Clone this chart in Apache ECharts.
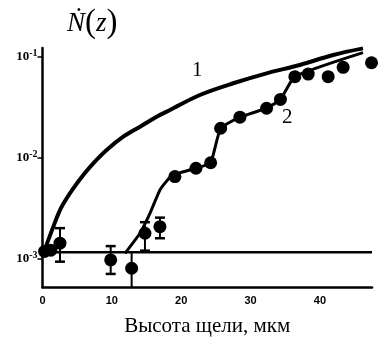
<!DOCTYPE html>
<html>
<head>
<meta charset="utf-8">
<script src="https://cdn.jsdelivr.net/npm/echarts@6/dist/echarts.min.js"></script>
<style>
html,body{margin:0;padding:0;background:#fff;}
#chart{width:378px;height:348px;}
</style>
</head>
<body>
<div id="chart"></div>
<script>
// Curve 1 (smooth theoretical curve)
const curve1X = [0.3, 1.56, 2.52, 3.49, 4.44, 5.88, 7.32, 9.25, 11.64, 14.05, 16.46, 18.37, 22.69, 27.49, 32.3, 37.1, 41.9, 46.2];
const curve1Y = [0.0012, 0.00206, 0.00301, 0.00394, 0.00494, 0.0067, 0.00875, 0.01186, 0.01607, 0.0202, 0.0254, 0.0296, 0.0417, 0.0545, 0.0684, 0.0828, 0.104, 0.121];

// Curve 2 (line through experimental points)
const curve2X = [11.9, 14.05, 15.49, 16.93, 18.3, 19.09, 22.12, 24.24, 25.68, 28.46, 32.3, 34.3, 36.38, 46.2];
const curve2Y = [0.00112, 0.00177, 0.00279, 0.00476, 0.0063, 0.0068, 0.00782, 0.00887, 0.0195, 0.0251, 0.0308, 0.0377, 0.0634, 0.1096];

// Experimental points
const pointsX = [0.3, 1.2, 2.52, 9.83, 12.85, 14.77, 16.93, 19.09, 22.12, 24.24, 25.68, 28.46, 32.3, 34.3, 36.38, 38.3, 41.18, 43.34, 47.43];
const pointsY = [0.00117, 0.0012, 0.00141, 0.000962, 0.000796, 0.00177, 0.00206, 0.00646, 0.00782, 0.00887, 0.0195, 0.0251, 0.0308, 0.0377, 0.0634, 0.0673, 0.0634, 0.0785, 0.0871];

// Error bars
const errX = [2.52, 9.83, 12.85, 14.77, 16.93];
const errLow = [0.000925, 0.000699, 0.00052, 0.00119, 0.00158];
const errHigh = [0.00199, 0.00132, 0.00115, 0.00228, 0.00253];
const errCap = [true, true, false, true, true];

// Background level line
const levelX = [0, 47.5];
const levelY = [0.00115, 0.00115];

// Axes
const xMin = 0, xMax = 47.5, xInterval = 10;
const yMin = 0.000515, yMax = 0.122;
const yTickValues = [0.001, 0.01, 0.1];
const yTickExp = ['-3', '-2', '-1'];

const zip = (a, b) => a.map((v, i) => [v, b[i]]);

const chart = echarts.init(document.getElementById('chart'), null, {renderer: 'canvas'});
const option = {
  backgroundColor: '#ffffff',
  animation: false,
  grid: {left: 42.5, right: 6, top: 48, bottom: 60.7, containLabel: false},
  xAxis: {
    type: 'value', min: xMin, max: xMax, interval: xInterval,
    name: 'Высота щели, мкм', nameLocation: 'middle', nameGap: 29,
    nameTextStyle: {fontFamily: 'Liberation Serif', fontSize: 21, color: '#000'},
    axisLine: {show: true, lineStyle: {color: '#000', width: 2.5}},
    axisTick: {show: false},
    splitLine: {show: false},
    axisLabel: {
      color: '#000', fontFamily: 'Liberation Sans', fontWeight: 'bold', fontSize: 11, margin: 8,
      formatter: v => (v % 10 === 0 && v <= 40) ? String(v) : ''
    }
  },
  yAxis: {
    type: 'log', logBase: 10, min: yMin, max: yMax,
    axisLine: {show: true, lineStyle: {color: '#000', width: 2.5}},
    axisTick: {show: true, length: 5, lineStyle: {color: '#000', width: 1.5}, customValues: yTickValues},
    splitLine: {show: false},
    axisLabel: {
      customValues: yTickValues,
      margin: 5,
      formatter: v => {
        for (let i = 0; i < yTickValues.length; i++) {
          if (Math.abs(v / yTickValues[i] - 1) < 1e-6) return '{b|10}{s|' + yTickExp[i] + '}';
        }
        return '';
      },
      rich: {
        b: {fontFamily: 'Liberation Serif', fontWeight: 'bold', fontSize: 13, color: '#000'},
        s: {fontFamily: 'Liberation Serif', fontWeight: 'bold', fontSize: 10, color: '#000', verticalAlign: 'top', padding: [0,0,6,0]}
      }
    }
  },
  graphic: [
    {type: 'text', left: 67, top: 7, style: {
      text: '{n|Ṅ}{p|(}{z|z}{p|)}',
      rich: {
        n: {fontFamily: 'Liberation Serif', fontStyle: 'italic', fontSize: 27, fill: '#000'},
        z: {fontFamily: 'Liberation Serif', fontStyle: 'italic', fontSize: 27, fill: '#000'},
        p: {fontFamily: 'Liberation Serif', fontSize: 33, fill: '#000'}
      }
    }},
    {type: 'text', left: 192, top: 60, style: {text: '1', fontFamily: 'Liberation Serif', fontSize: 21, fill: '#000'}},
    {type: 'text', left: 282, top: 107, style: {text: '2', fontFamily: 'Liberation Serif', fontSize: 21, fill: '#000'}}
  ],
  series: [
    {type: 'line', data: zip(levelX, levelY), symbol: 'none', lineStyle: {color: '#000', width: 2.5}, z: 2},
    {type: 'line', data: zip(curve1X, curve1Y), smooth: 0.35, symbol: 'none', lineStyle: {color: '#000', width: 4}, z: 3},
    {type: 'line', data: zip(curve2X, curve2Y), smooth: 0.15, symbol: 'none', lineStyle: {color: '#000', width: 3}, z: 3},
    {
      type: 'custom', z: 4,
      data: errX.map((x, i) => [x, errLow[i], errHigh[i], errCap[i] ? 1 : 0]),
      renderItem: (params, api) => {
        const lo = api.coord([api.value(0), api.value(1)]);
        const hi = api.coord([api.value(0), api.value(2)]);
        const cap = api.value(3) ? 5 : 0;
        const st = {stroke: '#000', lineWidth: 2};
        const children = [{type: 'line', shape: {x1: lo[0], y1: lo[1], x2: hi[0], y2: hi[1]}, style: st}];
        if (cap) {
          children.push({type: 'line', shape: {x1: lo[0]-cap, y1: lo[1], x2: lo[0]+cap, y2: lo[1]}, style: {stroke: '#000', lineWidth: 2.5}});
          children.push({type: 'line', shape: {x1: hi[0]-cap, y1: hi[1], x2: hi[0]+cap, y2: hi[1]}, style: {stroke: '#000', lineWidth: 2.5}});
        }
        return {type: 'group', children};
      }
    },
    {type: 'scatter', data: zip(pointsX, pointsY), symbol: 'circle', symbolSize: 13, itemStyle: {color: '#000', opacity: 1}, z: 5}
  ]
};
chart.setOption(option);
</script>
</body>
</html>
